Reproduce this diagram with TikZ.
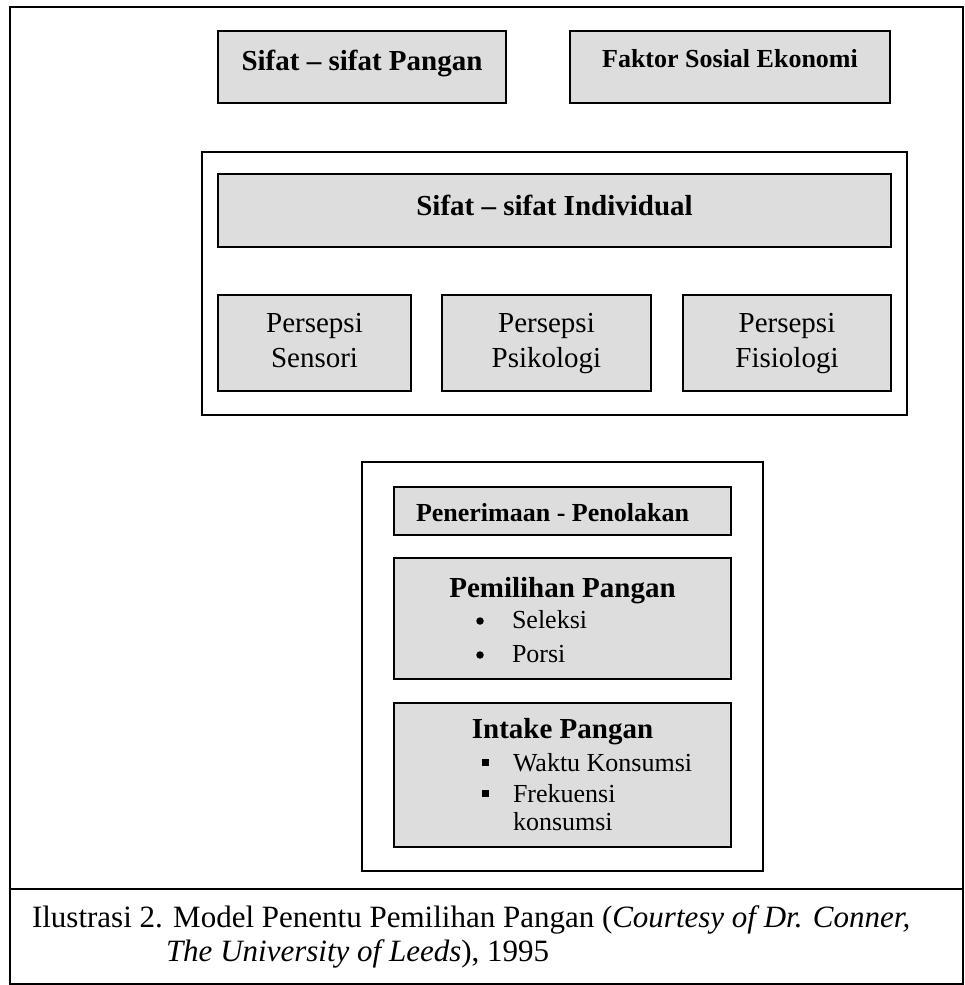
\documentclass[tikz,border=0pt]{standalone}
\usepackage{fontspec}
\setmainfont{Liberation Serif}
\definecolor{boxgray}{RGB}{221,221,221}
\newcommand{\fsz}[1]{\fontsize{#1}{#1}\selectfont}
\begin{document}
\begin{tikzpicture}[x=1pt,y=-1pt,
  frame/.style={draw=black,line width=1.4pt,fill=none,inner sep=0pt,outer sep=0pt},
  graybox/.style={draw=black,line width=1.8pt,fill=boxgray,inner sep=0pt,outer sep=0pt},
  txt/.style={inner sep=0pt,outer sep=0pt,anchor=base},
  txtw/.style={inner sep=0pt,outer sep=0pt,anchor=base west},
  head/.style={txt,font=\bfseries\fsz{29}},
  body/.style={txt,font=\fsz{29}},
  item/.style={txtw,font=\fsz{26}},
  dotmark/.style={circle,fill=black,minimum size=7.5,inner sep=0pt,outer sep=0pt},
  sqmark/.style={fill=black,minimum size=7,inner sep=0pt,outer sep=0pt}
]
\useasboundingbox (0,0) rectangle (965,985);
\fill[white] (0,0) rectangle (965,985);
% outer frame and caption divider
\node[frame,minimum width=953,minimum height=977] (outer) at (486.5,495.5) {};
\coordinate (divL) at (10,889);
\coordinate (divR) at (963,889);
\draw[line width=1.4pt] (divL) -- (divR);
% top boxes
\node[graybox,minimum width=288,minimum height=72] (sp) at (362,67) {};
\node[graybox,minimum width=320,minimum height=72] (fse) at (730,67) {};
\node[head] (tsp) at (362,70) {Sifat – sifat Pangan};
\node[txt,font=\bfseries\fsz{26}] (tfse) at (730,67) {Faktor Sosial Ekonomi};
% individual group
\node[frame,minimum width=705,minimum height=263] (indiv) at (554.5,283.5) {};
\node[graybox,minimum width=673,minimum height=73] (si) at (554.5,210.5) {};
\node[head] (tsi) at (554.5,215) {Sifat – sifat Individual};
\node[graybox,minimum width=193,minimum height=96] (ps1) at (314.5,343) {};
\node[graybox,minimum width=209,minimum height=96] (ps2) at (546.5,343) {};
\node[graybox,minimum width=208,minimum height=96] (ps3) at (787,343) {};
\node[body] (ps1a) at (314.5,332) {Persepsi};
\node[body] (ps1b) at (314.5,367) {Sensori};
\node[body] (ps2a) at (546.5,332) {Persepsi};
\node[body] (ps2b) at (546.5,367) {Psikologi};
\node[body] (ps3a) at (787,332) {Persepsi};
\node[body] (ps3b) at (787,367) {Fisiologi};
% bottom group
\node[frame,minimum width=401,minimum height=409] (choice) at (562.5,666.5) {};
\node[graybox,minimum width=337,minimum height=48] (pen) at (562.5,511) {};
\node[txtw,font=\bfseries\fsz{26}] (tpen) at (416,521) {Penerimaan - Penolakan};
\node[graybox,minimum width=337,minimum height=121] (pem) at (562.5,618.5) {};
\node[head] (tpem) at (562.5,597) {Pemilihan Pangan};
\node[dotmark] (b1) at (480,621) {};
\node[item] (i1) at (512,628) {Seleksi};
\node[dotmark] (b2) at (480,655) {};
\node[item] (i2) at (512,662) {Porsi};
\node[graybox,minimum width=337,minimum height=144] (int) at (562.5,775) {};
\node[head] (tint) at (562.5,738) {Intake Pangan};
\node[sqmark] (s1) at (485,762) {};
\node[item] (j1) at (513,771) {Waktu Konsumsi};
\node[sqmark] (s2) at (485,793.5) {};
\node[item] (j2) at (513,802) {Frekuensi};
\node[item] (j3) at (513,830) {konsumsi};
% caption
\node[txtw,font=\fsz{31}] (cap1) at (32,927) {Ilustrasi 2. Model Penentu Pemilihan Pangan (\textit{Courtesy of Dr. Conner,}};
\node[txtw,font=\fsz{31}] (cap2) at (166,961) {\textit{The University of Leeds}), 1995};
\end{tikzpicture}
\end{document}
